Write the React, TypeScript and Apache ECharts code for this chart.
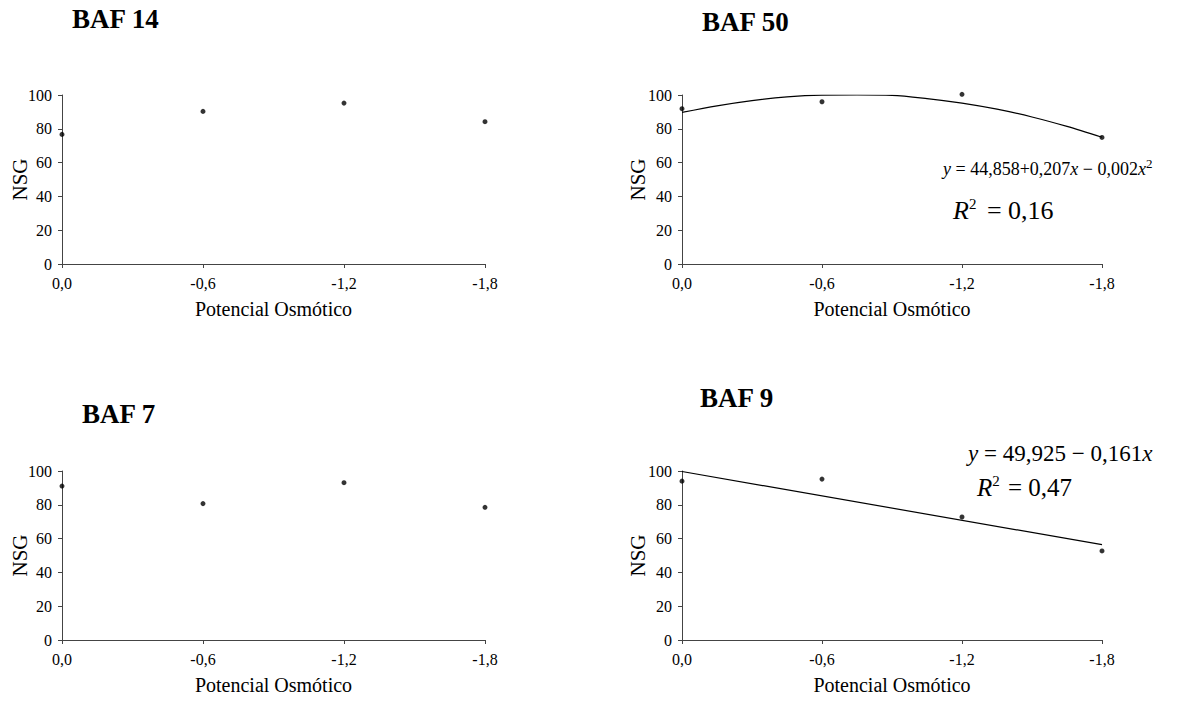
import React, { useEffect, useRef } from "react";
import * as echarts from "echarts";

const xValues = [0, -0.6, -1.2, -1.8];
const baf14 = [76.7, 90.3, 95.2, 84.2];
const baf50 = [91.9, 96.0, 100.4, 74.9];
const baf7 = [91.1, 80.7, 93.1, 78.5];
const baf9 = [94.0, 95.2, 72.8, 52.7];
const baf50TrendX = [0, -0.15, -0.3, -0.45, -0.6, -0.75, -0.9, -1.05, -1.2, -1.35, -1.5, -1.65, -1.8];
const baf50TrendY = [89.7, 93.6, 96.7, 98.9, 99.9, 100.0, 99.8, 97.9, 95.2, 91.6, 87.0, 81.4, 75.0];
const baf9TrendX = [0, -1.8];
const baf9TrendY = [99.7, 56.4];
const titles = ["BAF 14", "BAF 50", "BAF 7", "BAF 9"];
const yTicks = [0, 20, 40, 60, 80, 100];

const FONT = "Liberation Serif";

const pairs = (xs: number[], ys: number[]) => xs.map((x, i) => [x, ys[i]]);

export default function App() {
  const ref = useRef<HTMLDivElement>(null);
  useEffect(() => {
    if (!ref.current) return;
    const chart = echarts.init(ref.current, null, { renderer: "svg" });
    const grids = [
      { left: 62, top: 95, width: 423, height: 169 },
      { left: 682, top: 95, width: 420, height: 169 },
      { left: 62, top: 471, width: 423, height: 169 },
      { left: 682, top: 471, width: 420, height: 169 },
    ];
    const titlePos = [
      { left: 72, top: 5 },
      { left: 702, top: 8 },
      { left: 82, top: 400 },
      { left: 700, top: 384 },
    ];
    const axisLine = { show: true, lineStyle: { color: "#444", width: 1 } };
    const fmtX = (v: number) => (Math.abs(v) < 1e-9 ? "0,0" : v.toFixed(1).replace(".", ","));
    const xAxes = grids.map((_, i) => ({
      type: "value",
      gridIndex: i,
      inverse: true,
      min: -1.8,
      max: 0,
      interval: 0.6,
      splitLine: { show: false },
      axisLine: { ...axisLine, onZero: false },
      axisTick: { show: true, length: 4, lineStyle: { color: "#444" } },
      axisLabel: { formatter: fmtX, color: "#000", fontFamily: FONT, fontSize: 16, margin: 11 },
      name: "Potencial Osmótico",
      nameLocation: "middle",
      nameGap: 35,
      nameTextStyle: { color: "#000", fontFamily: FONT, fontSize: 20 },
    }));
    const yAxes = grids.map((_, i) => ({
      type: "value",
      gridIndex: i,
      min: 0,
      max: 100,
      interval: 20,
      splitLine: { show: false },
      axisLine: { ...axisLine, onZero: false },
      axisTick: { show: true, length: 4, lineStyle: { color: "#444" } },
      axisLabel: {
        color: "#000",
        fontFamily: FONT,
        fontSize: 16,
        margin: 10,
        formatter: (v: number) => (yTicks.includes(v) ? String(v) : ""),
      },
      name: "NSG",
      nameLocation: "middle",
      nameMoveOverlap: false,
      nameGap: i % 2 === 0 ? 32 : 34,
      nameTextStyle: { color: "#000", fontFamily: FONT, fontSize: 21 },
    }));
    const dataSets = [baf14, baf50, baf7, baf9];
    const scatter = dataSets.map((d, i) => ({
      type: "scatter",
      xAxisIndex: i,
      yAxisIndex: i,
      data: pairs(xValues, d),
      symbol: "circle",
      symbolSize: 5,
      itemStyle: { color: "#000" },
      clip: false,
      z: 3,
    }));
    const lines = [
      {
        type: "line",
        xAxisIndex: 1,
        yAxisIndex: 1,
        data: pairs(baf50TrendX, baf50TrendY),
        smooth: 0.3,
        symbol: "none",
        lineStyle: { color: "#000", width: 1.2 },
      },
      {
        type: "line",
        xAxisIndex: 3,
        yAxisIndex: 3,
        data: pairs(baf9TrendX, baf9TrendY),
        symbol: "none",
        lineStyle: { color: "#000", width: 1.2 },
      },
    ];
    const base = { fontFamily: FONT, fill: "#000" };
    chart.setOption({
      animation: false,
      backgroundColor: "#fff",
      textStyle: { fontFamily: FONT },
      title: titles.map((t, i) => ({
        text: t,
        left: titlePos[i].left,
        top: titlePos[i].top,
        padding: 0,
        textStyle: { fontFamily: FONT, fontWeight: "bold", fontSize: 27, color: "#000" },
      })),
      grid: grids,
      xAxis: xAxes,
      yAxis: yAxes,
      series: [...scatter, ...lines],
      graphic: [
        {
          type: "text",
          left: 943,
          top: 157,
          style: {
            ...base,
            text: "{i|y} = 44,858+0,207{i|x} − 0,002{i|x}{s|2}",
            fontSize: 18,
            rich: {
              i: { fontStyle: "italic", fontFamily: FONT, fontSize: 18, fill: "#000" },
              s: { fontFamily: FONT, fontSize: 13, padding: [0, 0, 10, 0], fill: "#000" },
            },
          },
        },
        {
          type: "text",
          left: 953,
          top: 196,
          style: {
            ...base,
            text: "{i|R}{s|2} = 0,16",
            fontSize: 26,
            rich: {
              i: { fontStyle: "italic", fontFamily: FONT, fontSize: 26, fill: "#000" },
              s: { fontFamily: FONT, fontSize: 15, padding: [0, 4, 14, 0], fill: "#000" },
            },
          },
        },
        {
          type: "text",
          left: 968,
          top: 442,
          style: {
            ...base,
            text: "{i|y} = 49,925 − 0,161{i|x}",
            fontSize: 23,
            rich: {
              i: { fontStyle: "italic", fontFamily: FONT, fontSize: 23, fill: "#000" },
            },
          },
        },
        {
          type: "text",
          left: 977,
          top: 473,
          style: {
            ...base,
            text: "{i|R}{s|2} = 0,47",
            fontSize: 25,
            rich: {
              i: { fontStyle: "italic", fontFamily: FONT, fontSize: 25, fill: "#000" },
              s: { fontFamily: FONT, fontSize: 15, padding: [0, 2, 13, 0], fill: "#000" },
            },
          },
        },
      ],
    });
    return () => chart.dispose();
  }, []);
  return (
    <div
      ref={ref}
      style={{ position: "absolute", left: 0, top: 0, width: 1185, height: 701, background: "#fff" }}
    />
  );
}
